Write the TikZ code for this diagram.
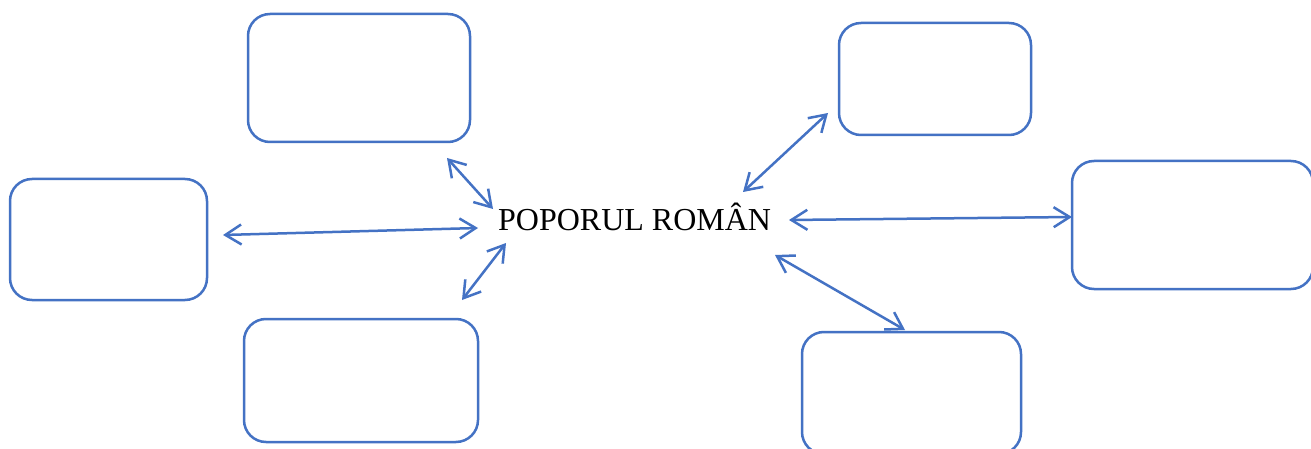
\documentclass[tikz,border=0pt]{standalone}
\usepackage{fontspec}
\setmainfont{Liberation Serif}
\usetikzlibrary{arrows.meta}
\definecolor{boxblue}{HTML}{4472C4}
\begin{document}
\begin{tikzpicture}[x=1pt,y=-1pt,
  box/.style={draw=boxblue, line width=2.5pt, rounded corners=22pt, inner sep=0pt},
  tip/.style={Straight Barb[length=16pt,width=20pt,line width=2.5pt]},
  link/.style={draw=boxblue, line width=2.5pt, {Straight Barb[length=16pt,width=20pt,line width=2.5pt]}-{Straight Barb[length=16pt,width=20pt,line width=2.5pt]}}]
\clip (0,0) rectangle (1311,449);
\fill[white] (0,0) rectangle (1311,449);
\node[box, minimum width=222pt, minimum height=128pt] (b1) at (359,78) {};
\node[box, minimum width=197pt, minimum height=121pt] (b2) at (108.5,239.5) {};
\node[box, minimum width=234pt, minimum height=123pt] (b3) at (361,380.5) {};
\node[box, minimum width=192pt, minimum height=112pt] (b4) at (935,79) {};
\node[box, minimum width=241pt, minimum height=128pt] (b5) at (1192.5,225) {};
\node[box, minimum width=219pt, minimum height=122pt] (b6) at (911.5,393) {};
\node[anchor=base west, inner sep=0pt, font=\fontsize{32}{38}\selectfont] (t) at (498,230) {POPORUL ROMÂN};
\coordinate (a1s) at (493,209); \coordinate (a1e) at (447,158);
\coordinate (a2s) at (478,228); \coordinate (a2e) at (223,235);
\coordinate (a3s) at (506,243); \coordinate (a3e) at (462,300);
\coordinate (a4s) at (743,192); \coordinate (a4e) at (828,113);
\coordinate (a5s) at (789,220); \coordinate (a5e) at (1072,217);
\coordinate (a6s) at (775,255); \coordinate (a6e) at (905,330);
\draw[link] (a1s) -- (a1e);
\draw[link] (a2s) -- (a2e);
\draw[link] (a3s) -- (a3e);
\draw[link] (a4s) -- (a4e);
\draw[link] (a5s) -- (a5e);
\draw[link] (a6s) -- (a6e);
\end{tikzpicture}
\end{document}
